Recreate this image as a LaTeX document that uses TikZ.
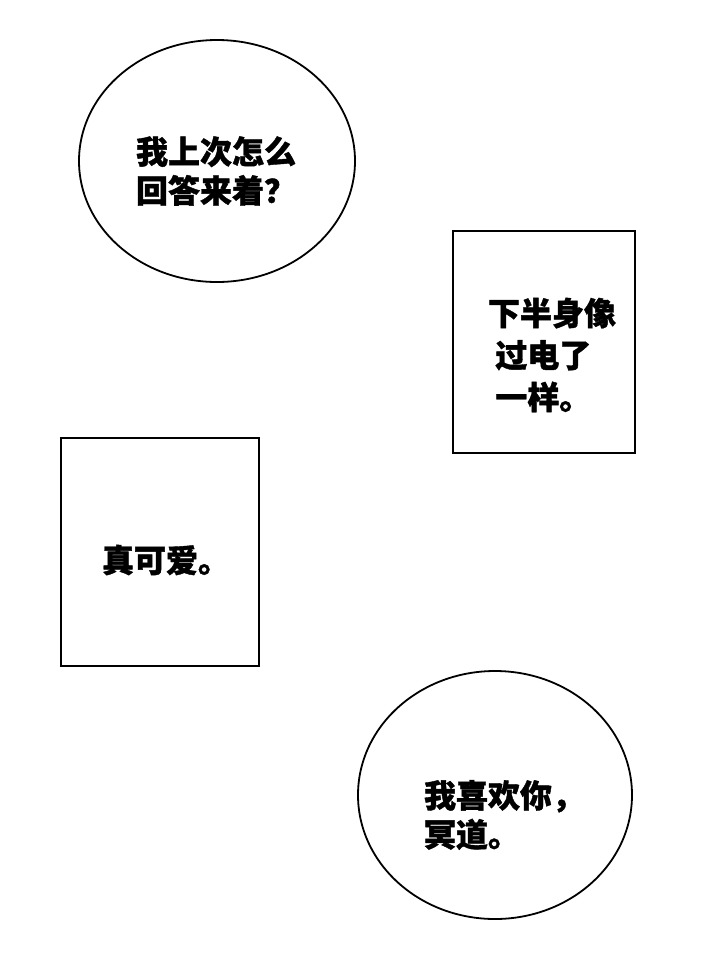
\documentclass[tikz,border=0pt]{standalone}
\usetikzlibrary{shapes.geometric}
\usepackage{fontspec}
\newfontfamily\cjk[FakeBold=1.2]{Noto Sans CJK SC}
\begin{document}
\begin{tikzpicture}[x=1pt,y=-1pt,
  shp/.style={draw=black,line width=1.8pt,fill=white},
  txt/.style={font=\cjk\bfseries\fontsize{32}{39}\selectfont,align=left}]
\useasboundingbox[fill=white] (0,0) rectangle (720,954);
\node[shp,ellipse,minimum width=276,minimum height=242,inner sep=0] (e1) at (217,161) {};
\node[txt] (t1) at (216,171) {我上次怎么\\回答来着？};
\draw[shp] (453,231) rectangle (635,453);
\node[txt,font=\cjk\bfseries\fontsize{32}{42}\selectfont] (t2) at (552,355) {下半身像\\\ 过电了\\\ 一样。};
\draw[shp] (61,438) rectangle (259,666);
\node[txt] (t3) at (166,560) {真可爱。};
\node[shp,ellipse,minimum width=274,minimum height=248,inner sep=0] (e2) at (495,795) {};
\node[txt] (t4) at (504,815) {我喜欢你，\\冥道。};
\end{tikzpicture}
\end{document}
